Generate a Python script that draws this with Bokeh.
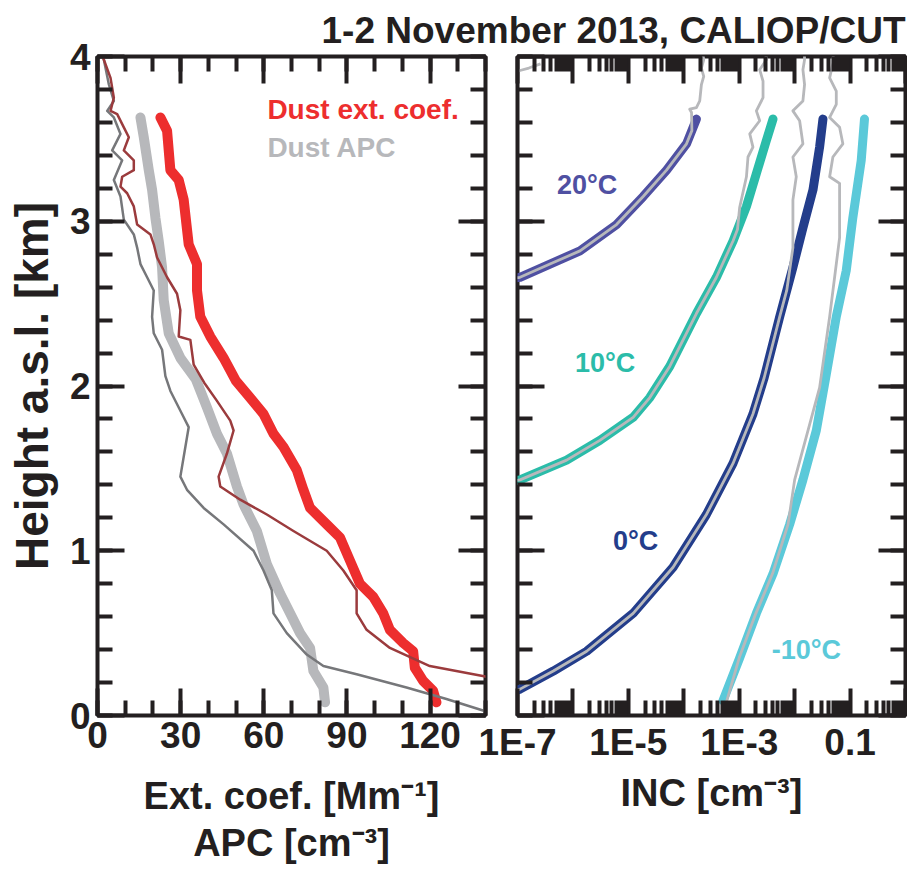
import math
from bokeh.plotting import figure
from bokeh.models import (Range1d, LinearAxis, LogAxis, FixedTicker,
                          CustomJSTickFormatter, Label, Title)
from bokeh.layouts import row
from bokeh.embed import file_html
from bokeh.resources import INLINE

# ---------------- left panel data (x value, height km) ----------------
ext_dust_x = [122.3, 121.1, 117.5, 114.5, 113.9, 110.3, 105.5, 103.1, 99.5, 94.7,
              91.1, 87.5, 82.7, 76.7, 74.3, 71.9, 67.1, 63.5, 59.9, 55.0,
              50.0, 45.5, 40.7, 37.1, 35.9, 35.9, 32.9, 31.1, 29.3, 26.3, 25.1, 22.7]
ext_dust_h = [0.08, 0.15, 0.21, 0.29, 0.39, 0.44, 0.52, 0.62, 0.72, 0.80,
              0.94, 1.08, 1.16, 1.26, 1.37, 1.49, 1.63, 1.71, 1.83, 1.93,
              2.03, 2.17, 2.30, 2.42, 2.58, 2.74, 2.86, 3.13, 3.25, 3.31, 3.55, 3.63]

apc_dust_x = [82.1, 81.5, 77.9, 76.7, 73.1, 69.5, 65.9, 61.1, 57.5, 52.7, 50.3, 46.7,
              43.1, 39.5, 35.5, 29.9, 25.7, 23.9, 23.3, 22.1, 20.9, 19.7, 18.5, 16.7, 15.5]
apc_dust_h = [0.08, 0.17, 0.27, 0.41, 0.50, 0.62, 0.74, 0.92, 1.12, 1.28, 1.39, 1.59,
              1.71, 1.87, 2.04, 2.17, 2.32, 2.52, 2.72, 2.88, 3.02, 3.19, 3.31, 3.51, 3.63]

ext_total_x = [145, 139, 119.9, 105.5, 97.1, 93.5, 93.5, 88.7, 82.7, 70.7,
               61.1, 51.5, 44.3, 43.7, 46.7, 49.1, 47.9, 43.1, 38.5, 34.7,
               33.5, 29.3, 29.9, 28.7, 25.1, 21.5, 20.3, 19.1, 14.3, 13.1,
               10.7, 8.3, 8.9, 13.1, 13.1, 9.5, 11.3, 9.5, 7.1, 4.7, 5.9, 4.7, 2.3, 1.5]
ext_total_h = [0.22, 0.24, 0.30, 0.41, 0.52, 0.62, 0.76, 0.88, 1.00, 1.12,
               1.22, 1.31, 1.39, 1.45, 1.59, 1.73, 1.79, 1.91, 2.02, 2.13,
               2.28, 2.30, 2.46, 2.56, 2.66, 2.78, 2.86, 2.92, 2.98, 3.09,
               3.17, 3.21, 3.27, 3.31, 3.37, 3.43, 3.51, 3.57, 3.65, 3.67, 3.75, 3.87, 3.98, 4.02]

apc_total_x = [145, 139.1, 125.9, 111.5, 93.5, 81.5, 75.5, 68.3, 63.5, 62.9,
               59.9, 56.3, 45.5, 38.3, 32.3, 29.9, 31.7, 32.9, 30.5, 26.3,
               24.5, 23.3, 20.3, 19.7, 20.3, 17.9, 15.5, 14.3, 13.1, 9.5,
               8.3, 5.9, 8.9, 5.3, 8.3, 5.9, 3.5, 5.9, 4.1, 2.3, 1.5]
apc_total_h = [0.01, 0.03, 0.10, 0.17, 0.25, 0.30, 0.37, 0.50, 0.62, 0.76,
               0.88, 1.00, 1.16, 1.26, 1.37, 1.45, 1.63, 1.75, 1.83, 1.97,
               2.06, 2.22, 2.32, 2.42, 2.58, 2.66, 2.74, 2.84, 2.92, 3.01,
               3.15, 3.25, 3.37, 3.43, 3.53, 3.63, 3.67, 3.73, 3.83, 3.98, 4.02]

# ---------------- right panel data (INC cm^-3, height km) ----------------
inc_20_x = [9.0e-8, 1.11e-7, 3.85e-7, 1.34e-6, 6.12e-6, 1.85e-5, 4.88e-5, 1.12e-4, 1.69e-4]
inc_20_h = [2.655, 2.66, 2.74, 2.82, 2.98, 3.15, 3.31, 3.47, 3.62]
inc_20_top_x = [1.40e-4, 1.38e-4, 1.28e-4, 1.69e-4, 1.94e-4, 2.08e-4, 2.29e-4, 2.08e-4, 2.29e-4, 2.2e-4]
inc_20_top_h = [3.55, 3.66, 3.68, 3.69, 3.73, 3.83, 3.88, 3.93, 3.98, 4.02]
inc_corner_x = [9.0e-8, 1.11e-7, 1.6e-7, 2.6e-7]
inc_corner_h = [3.905, 3.915, 3.93, 3.955]

inc_10_x = [9.0e-8, 1.11e-7, 7.69e-7, 3.06e-6, 1.22e-5, 2.44e-5, 5.6e-5, 1.69e-4,
            3.88e-4, 7.73e-4, 1.35e-3, 2.04e-3, 3.09e-3, 4.07e-3]
inc_10_h = [1.425, 1.43, 1.55, 1.67, 1.81, 1.93, 2.12, 2.44, 2.66, 2.88, 3.09, 3.29, 3.49, 3.62]
inc_10_top_x = [9.3e-4, 1.02e-3, 1.35e-3, 1.44e-3, 1.77e-3, 1.55e-3, 2.34e-3, 2.04e-3,
                2.69e-3, 2.69e-3, 2.34e-3, 3.09e-3, 3.0e-3]
inc_10_top_h = [2.95, 3.085, 3.27, 3.39, 3.45, 3.53, 3.61, 3.67, 3.75, 3.85, 3.92, 3.98, 4.02]

inc_0_x = [9.0e-8, 1.11e-7, 4.43e-7, 1.77e-6, 1.22e-5, 6.41e-5, 2.56e-4, 7.73e-4, 1.77e-3,
           2.82e-3, 5.37e-3, 9.31e-3, 1.41e-2, 2.14e-2, 2.82e-2, 3.24e-2]
inc_0_h = [0.15, 0.16, 0.27, 0.39, 0.62, 0.90, 1.22, 1.53, 1.83, 2.05, 2.42, 2.72, 2.96, 3.19, 3.45, 3.62]
inc_0_top_x = [7.2e-3, 9.31e-3, 9.31e-3, 1.07e-2, 9.31e-3, 1.41e-2, 1.23e-2, 9.31e-3,
               1.41e-2, 1.51e-2, 1.41e-2, 1.51e-2, 1.5e-2]
inc_0_top_h = [2.58, 2.84, 3.13, 3.27, 3.39, 3.47, 3.61, 3.67, 3.73, 3.83, 3.92, 3.98, 4.02]

inc_m10_x = [5.10e-4, 1.02e-3, 2.04e-3, 4.07e-3, 8.13e-3, 1.41e-2, 2.46e-2, 3.72e-2,
             5.64e-2, 8.53e-2, 1.12e-1, 1.59e-1, 1.82e-1]
inc_m10_h = [0.09, 0.35, 0.62, 0.86, 1.16, 1.43, 1.73, 2.07, 2.42, 2.70, 3.02, 3.37, 3.62]
inc_m10_gray_x = [5.1e-4, 1.0e-3, 2.0e-3, 3.98e-3, 7.6e-3, 1.0e-2, 2.82e-2, 4.28e-2, 6.47e-2,
                  6.47e-2, 4.28e-2, 4.90e-2, 7.41e-2, 6.47e-2, 4.28e-2, 5.64e-2, 5.64e-2,
                  4.28e-2, 4.90e-2, 5.0e-2]
inc_m10_gray_h = [0.01, 0.35, 0.62, 0.86, 1.16, 1.43, 1.99, 2.42, 2.90, 3.23, 3.27, 3.39,
                  3.47, 3.57, 3.63, 3.71, 3.79, 3.87, 3.96, 4.02]

# ---------------- ticks / labels ----------------
ext_ticks = [0, 30, 60, 90, 120]
ext_minor = list(range(0, 141, 10))
h_ticks = [0, 1, 2, 3, 4]
h_minor = [round(0.2 * i, 1) for i in range(21)]
inc_exps = list(range(-7, 1))
inc_label_exps = [-7, -5, -3, -1]
inc_labels = ["1E-7", "1E-5", "1E-3", "0.1"]
temp_labels = ["20°C", "10°C", "0°C", "-10°C"]
temp_label_x = [5.15e-7, 1.09e-6, 5.26e-6, 3.85e-3]
temp_label_y = [3.22, 2.14, 1.06, 0.40]
title_text = "1-2 November 2013, CALIOP/CUT"
y_label = "Height a.s.l. [km]"
ext_label = "Ext. coef. [Mm\u207b\u00b9]"
apc_label = "APC [cm\u207b\u00b3]"
inc_label = "INC [cm\u207b\u00b3]"

TXT = "#231F20"
FONT = "Liberation Sans"
RED = "#ED2E2E"
LGRAY = "#B7B8BB"
DRED = "#9B3B3D"
DGRAY = "#76777A"
C20 = "#4F50A2"
C10 = "#2BBCA9"
C0 = "#233D8B"
CM10 = "#5BC9D9"


def style_axis(ax, labels=True):
    ax.axis_line_color = None
    ax.major_tick_in = 27
    ax.major_tick_out = 0
    ax.minor_tick_in = 15
    ax.minor_tick_out = 0
    ax.major_tick_line_width = 4
    ax.minor_tick_line_width = 4
    ax.major_tick_line_color = TXT
    ax.minor_tick_line_color = TXT
    ax.major_label_text_font = FONT
    ax.major_label_text_font_style = "bold"
    ax.major_label_text_color = TXT
    ax.axis_label_text_font = FONT
    ax.axis_label_text_font_style = "bold"
    ax.axis_label_text_color = TXT
    ax.axis_label_text_font_size = "38px"
    if labels:
        ax.major_label_text_font_size = "37px"
        ax.major_label_standoff = 6
    else:
        ax.formatter = CustomJSTickFormatter(code="return '';")
        ax.major_label_text_font_size = "0px"
        ax.major_label_standoff = 0


def txt(x, y, text, size="26px", color=TXT):
    return Label(x=x, y=y, text=text, text_font=FONT, text_font_style="bold",
                 text_font_size=size, text_color=color, text_align="left",
                 text_baseline="middle")


def title(text, size="38px", align="center", standoff=0, offset=0):
    return Title(text=text, text_font=FONT, text_font_style="bold", text_font_size=size,
                 text_color=TXT, align=align, standoff=standoff, offset=offset)


# ================= left figure =================
p1 = figure(frame_width=388, frame_height=659, x_range=Range1d(0, 140), y_range=Range1d(0, 4),
            min_border_left=97, min_border_right=15, min_border_top=56, min_border_bottom=160,
            output_backend="svg", toolbar_location=None,
            background_fill_color=None, border_fill_color=None)
p1.outline_line_color = TXT
p1.outline_line_width = 4
p1.grid.visible = False

xt1 = FixedTicker(ticks=ext_ticks, minor_ticks=ext_minor)
yt = FixedTicker(ticks=h_ticks, minor_ticks=h_minor)
p1.xaxis[0].ticker = xt1
p1.yaxis[0].ticker = yt
style_axis(p1.xaxis[0])
style_axis(p1.yaxis[0])
p1.yaxis[0].major_label_standoff = 7
p1.yaxis[0].axis_label = y_label
p1.yaxis[0].axis_label_text_font_size = "46px"
p1.yaxis[0].axis_label_standoff = 9
p1.xaxis[0].axis_label = ext_label
p1.xaxis[0].axis_label_standoff = 24
top1 = LinearAxis(ticker=xt1)
style_axis(top1, labels=False)
p1.add_layout(top1, "above")
right1 = LinearAxis(ticker=yt)
style_axis(right1, labels=False)
p1.add_layout(right1, "right")
p1.add_layout(title(apc_label, standoff=0), "below")

p1.line(apc_dust_x, apc_dust_h, line_color=LGRAY, line_width=10, line_cap="round", line_join="round")
p1.line(ext_dust_x, ext_dust_h, line_color=RED, line_width=10, line_cap="round", line_join="round")
p1.line(apc_total_x, apc_total_h, line_color=DGRAY, line_width=2.5, line_join="round")
p1.line(ext_total_x, ext_total_h, line_color=DRED, line_width=2.5, line_join="round")

p1.add_layout(txt(61.3, 3.68, "Dust ext. coef.", size="28px", color=RED))
p1.add_layout(txt(61.3, 3.45, "Dust APC", size="28px", color=LGRAY))

# ================= right figure =================
p2 = figure(x_axis_type="log", frame_width=388, frame_height=659,
            x_range=Range1d(1e-7, 1), y_range=Range1d(0, 4),
            min_border_left=217, min_border_right=2, min_border_top=56, min_border_bottom=160,
            output_backend="svg", toolbar_location=None,
            background_fill_color=None, border_fill_color=None)
p2.margin = (0, 0, 0, -200)
p2.outline_line_color = TXT
p2.outline_line_width = 4
p2.grid.visible = False

inc_major = [10.0 ** e for e in inc_exps]
inc_minor = [m * 10.0 ** e for e in inc_exps[:-1] for m in range(2, 10)]
xt2 = FixedTicker(ticks=inc_major, minor_ticks=inc_minor)
p2.xaxis[0].ticker = xt2
style_axis(p2.xaxis[0])
p2.xaxis[0].formatter = CustomJSTickFormatter(
    args=dict(exps=inc_label_exps, labels=inc_labels),
    code="const e = Math.round(Math.log10(tick)); const i = exps.indexOf(e); return i >= 0 ? labels[i] : '';")
p2.xaxis[0].axis_label = inc_label
p2.xaxis[0].axis_label_standoff = 6
p2.yaxis[0].ticker = yt
style_axis(p2.yaxis[0], labels=False)
top2 = LogAxis(ticker=xt2)
style_axis(top2, labels=False)
p2.add_layout(top2, "above")
right2 = LinearAxis(ticker=yt)
style_axis(right2, labels=False)
p2.add_layout(right2, "right")
p2.add_layout(title(title_text, size="37px", align="right", standoff=12), "above")


def gray_path(xs, hs, h_split, ext_x, ext_h):
    gx = [x for x, h in zip(xs, hs) if h < h_split] + ext_x
    gh = [h for h in hs if h < h_split] + ext_h
    return gx, gh


for xs, hs, col in [(inc_20_x, inc_20_h, C20), (inc_10_x, inc_10_h, C10),
                    (inc_0_x, inc_0_h, C0), (inc_m10_x, inc_m10_h, CM10)]:
    p2.line(xs, hs, line_color=col, line_width=9, line_cap="round", line_join="round")

for xs, hs, hs_split, ex, eh in [(inc_20_x, inc_20_h, inc_20_top_h[0], inc_20_top_x, inc_20_top_h),
                                 (inc_10_x, inc_10_h, inc_10_top_h[0], inc_10_top_x, inc_10_top_h),
                                 (inc_0_x, inc_0_h, inc_0_top_h[0], inc_0_top_x, inc_0_top_h)]:
    gx, gh = gray_path(xs, hs, hs_split, ex, eh)
    p2.line(gx, gh, line_color=LGRAY, line_width=2.8, line_join="round")
p2.line(inc_m10_gray_x, inc_m10_gray_h, line_color=LGRAY, line_width=2.8, line_join="round")
p2.line(inc_corner_x, inc_corner_h, line_color=LGRAY, line_width=2.8, line_join="round")

for t, x, y, col in zip(temp_labels, temp_label_x, temp_label_y, [C20, C10, C0, CM10]):
    p2.add_layout(txt(x, y, t, size="27px", color=col))

layout = row(p1, p2)
open("out.html", "w").write(file_html(layout, INLINE))
